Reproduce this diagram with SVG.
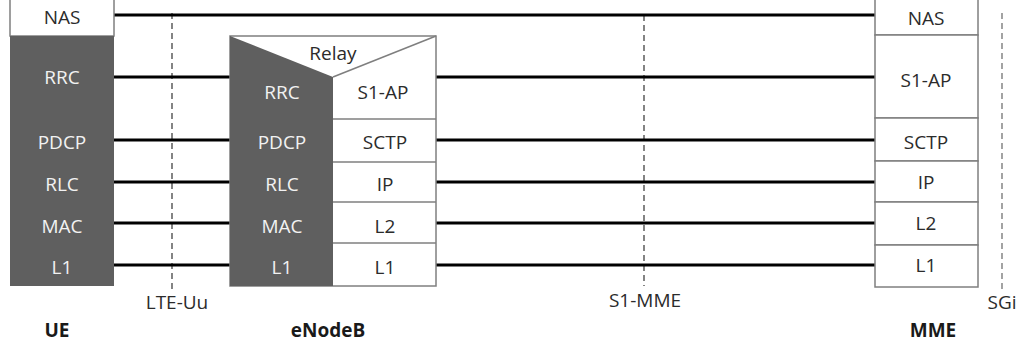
<svg xmlns="http://www.w3.org/2000/svg" width="1018" height="345" viewBox="0 0 1018 345">
  <style>
    .lbl { font-family: "Open Sans", "Liberation Sans", sans-serif; font-size: 19px; text-anchor: middle; }
    .dk { fill: #f2f2f2; }
    .lt { fill: #2b2b2b; }
    .bold { font-family: "Open Sans", "Liberation Sans", sans-serif; font-size: 19px; font-weight: bold; text-anchor: middle; fill: #1a1a1a; }
    .cell { fill: #ffffff; stroke: #7f7f7f; stroke-width: 1.5; }
    .dark { fill: #5f5f5f; }
    .link { stroke: #000000; stroke-width: 3; fill: none; }
    .iface { stroke: #333333; stroke-width: 1.2; stroke-dasharray: 6 4; fill: none; }
  </style>

  <rect width="1018" height="345" fill="#ffffff"/>

  <!-- interface boundaries -->
  <g id="interfaces">
    <line class="iface" x1="172" y1="13" x2="172" y2="290"/>
    <line class="iface" x1="644" y1="15" x2="644" y2="286"/>
    <line class="iface" x1="1002" y1="13" x2="1002" y2="292" style="stroke:#666666"/>
    <text class="lbl lt" x="177" y="309">LTE-Uu</text>
    <text class="lbl lt" x="645" y="307">S1-MME</text>
    <text class="lbl lt" x="1002" y="309">SGi</text>
  </g>

  <!-- peer-to-peer protocol links -->
  <g id="connectors">
    <line class="link" x1="114" y1="15" x2="875" y2="15"/>
    <line class="link" x1="114" y1="77" x2="230" y2="77"/>
    <line class="link" x1="436" y1="77" x2="875" y2="77"/>
    <line class="link" x1="114" y1="140" x2="230" y2="140"/>
    <line class="link" x1="436" y1="140" x2="875" y2="140"/>
    <line class="link" x1="114" y1="182" x2="230" y2="182"/>
    <line class="link" x1="436" y1="182" x2="875" y2="182"/>
    <line class="link" x1="114" y1="223" x2="230" y2="223"/>
    <line class="link" x1="436" y1="223" x2="875" y2="223"/>
    <line class="link" x1="114" y1="265" x2="230" y2="265"/>
    <line class="link" x1="436" y1="265" x2="875" y2="265"/>
  </g>

  <!-- UE protocol stack -->
  <g id="ue">
    <rect class="cell" x="10" y="-4" width="104" height="40"/>
    <text class="lbl lt" x="62" y="24">NAS</text>
    <rect class="dark" x="10" y="36" width="104" height="250"/>
    <text class="lbl dk" x="62" y="84">RRC</text>
    <text class="lbl dk" x="62" y="149">PDCP</text>
    <text class="lbl dk" x="62" y="191">RLC</text>
    <text class="lbl dk" x="62" y="233">MAC</text>
    <text class="lbl dk" x="62" y="274">L1</text>
    <text class="bold" x="57" y="337">UE</text>
  </g>

  <!-- eNodeB protocol stack -->
  <g id="enodeb">
    <rect class="cell" x="230" y="36" width="206" height="250"/>
    <line x1="333" y1="119" x2="436" y2="119" stroke="#7f7f7f" stroke-width="1.5"/>
    <line x1="333" y1="162" x2="436" y2="162" stroke="#7f7f7f" stroke-width="1.5"/>
    <line x1="333" y1="202" x2="436" y2="202" stroke="#7f7f7f" stroke-width="1.5"/>
    <line x1="333" y1="243" x2="436" y2="243" stroke="#7f7f7f" stroke-width="1.5"/>
    <line x1="333" y1="77" x2="436" y2="36" stroke="#7f7f7f" stroke-width="1.5"/>
    <polygon class="dark" points="230,36 333,77 333,286 230,286"/>
    <text class="lbl lt" x="333" y="60">Relay</text>
    <text class="lbl dk" x="282" y="99">RRC</text>
    <text class="lbl lt" x="383" y="99">S1-AP</text>
    <text class="lbl dk" x="282" y="149">PDCP</text>
    <text class="lbl lt" x="385" y="149">SCTP</text>
    <text class="lbl dk" x="282" y="191">RLC</text>
    <text class="lbl lt" x="385" y="191">IP</text>
    <text class="lbl dk" x="282" y="233">MAC</text>
    <text class="lbl lt" x="385" y="233">L2</text>
    <text class="lbl dk" x="282" y="274">L1</text>
    <text class="lbl lt" x="385" y="274">L1</text>
    <text class="bold" x="328" y="337">eNodeB</text>
  </g>

  <!-- MME protocol stack -->
  <g id="mme">
    <rect class="cell" x="875" y="-4" width="103" height="39"/>
    <rect class="cell" x="875" y="35" width="103" height="83"/>
    <rect class="cell" x="875" y="118" width="103" height="43"/>
    <rect class="cell" x="875" y="161" width="103" height="41"/>
    <rect class="cell" x="875" y="202" width="103" height="43"/>
    <rect class="cell" x="875" y="245" width="103" height="42"/>
    <text class="lbl lt" x="926" y="25">NAS</text>
    <text class="lbl lt" x="926" y="87">S1-AP</text>
    <text class="lbl lt" x="926" y="149">SCTP</text>
    <text class="lbl lt" x="926" y="189">IP</text>
    <text class="lbl lt" x="926" y="230">L2</text>
    <text class="lbl lt" x="926" y="272">L1</text>
    <text class="bold" x="933" y="337">MME</text>
  </g>
</svg>
